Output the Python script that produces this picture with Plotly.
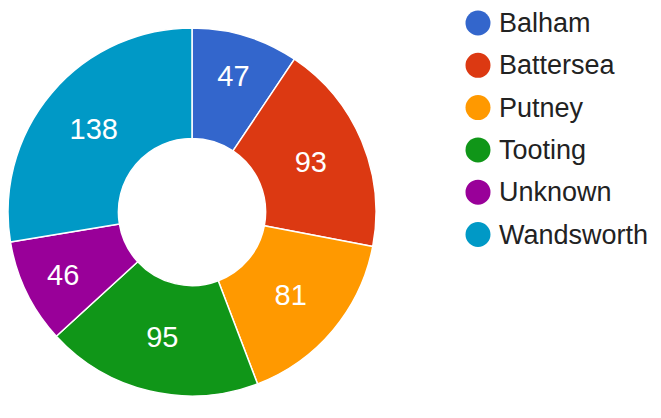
"""Donut chart of cases by area, Google Charts look"""
import plotly.graph_objects as go

# Data
areas = ['Balham', 'Battersea', 'Putney', 'Tooting', 'Unknown', 'Wandsworth']
counts = [47, 93, 81, 95, 46, 138]
colors = ['#3366cc', '#dc3912', '#ff9900', '#109618', '#990099', '#0099c6']

W, H = 661, 418
FONT = 'Arial, Liberation Sans, sans-serif'

# Pie placement (figure pixels; page adds an 8px body margin)
cx, cy, r = 184, 204, 184

fig = go.Figure()

fig.add_trace(go.Pie(
    labels=areas,
    values=counts,
    marker=dict(colors=colors, line=dict(color='white', width=1.5)),
    hole=0.4,
    sort=False,
    direction='clockwise',
    rotation=0,
    textinfo='value',
    textposition='inside',
    insidetextorientation='horizontal',
    textfont=dict(family=FONT, size=29, color='white'),
    showlegend=False,
    domain=dict(
        x=[max(0, (cx - r) / W), (cx + r) / W],
        y=[(H - cy - r) / H, (H - cy + r) / H],
    ),
))

# Legend with round dots, drawn by hand
dot_x, dot_d = 470, 25
text_x = 489
row0, row_gap = 15, 42.3
shapes = []
annotations = []
for i, (name, col) in enumerate(zip(areas, colors)):
    yc = row0 + i * row_gap
    shapes.append(dict(
        type='circle', xref='paper', yref='paper',
        x0=(dot_x - dot_d / 2) / W, x1=(dot_x + dot_d / 2) / W,
        y0=1 - (yc + dot_d / 2) / H, y1=1 - (yc - dot_d / 2) / H,
        fillcolor=col, line=dict(width=0),
    ))
    annotations.append(dict(
        text=name, xref='paper', yref='paper',
        x=text_x / W, y=1 - yc / H,
        xanchor='left', yanchor='middle', showarrow=False,
        font=dict(family=FONT, size=27, color='#222222'),
    ))

fig.update_layout(
    width=W,
    height=H,
    margin=dict(l=0, r=0, t=0, b=0),
    paper_bgcolor='white',
    plot_bgcolor='white',
    shapes=shapes,
    annotations=annotations,
    uniformtext=dict(minsize=20, mode='show'),
)

fig.write_html("out.html")
